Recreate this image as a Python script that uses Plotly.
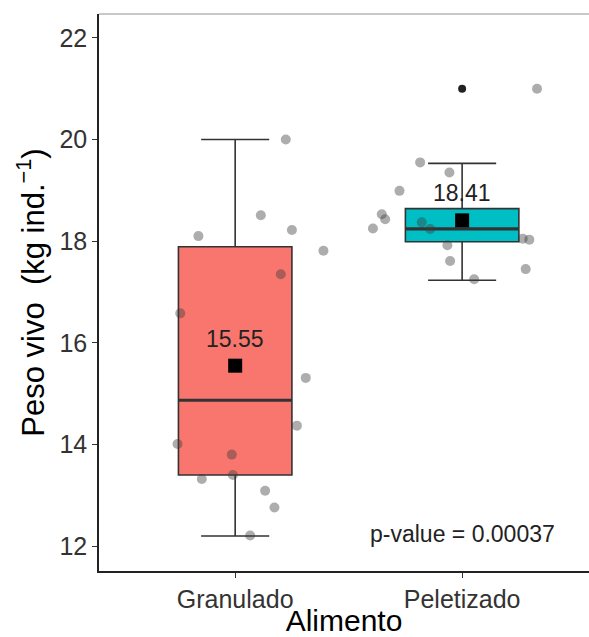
import plotly.graph_objects as go

# ---- data ----
categories = ["Granulado", "Peletizado"]
cat_pos = [1, 2]
box_colors = ["#F8766D", "#00BFC4"]

lowerfence = [12.2, 17.23]
q1 = [13.40, 17.99]
median = [14.87, 18.24]
q3 = [17.89, 18.64]
upperfence = [20.0, 19.53]
means = [15.55, 18.41]
mean_labels = ["15.55", "18.41"]

outlier_x = [2]
outlier_y = [21.0]

gran_x = [1.223, 1.113, 1.250, 0.838, 1.389, 1.201, 0.758, 1.311,
          1.272, 0.746, 0.985, 0.990, 0.853, 1.132, 1.173, 1.066]
gran_y = [20.0, 18.51, 18.22, 18.10, 17.81, 17.35, 16.58, 15.31,
          14.37, 14.01, 13.80, 13.40, 13.32, 13.09, 12.76, 12.21]

pel_x = [2.330, 1.815, 1.944, 1.724, 1.646, 1.661, 1.607, 1.822,
         1.859, 1.935, 1.947, 2.053, 2.267, 2.296, 2.280]
pel_y = [21.0, 19.55, 19.35, 18.99, 18.53, 18.43, 18.25, 18.37,
         18.24, 17.92, 17.61, 17.25, 18.05, 18.03, 17.45]

y_ticks = [12, 14, 16, 18, 20, 22]
p_text = "p-value = 0.00037"
p_pos = (2, 12.24)

BOX_W = 0.5
FONT = "Liberation Sans, Arial, sans-serif"

fig = go.Figure()

for i in range(len(categories)):
    fig.add_trace(go.Box(
        x=[cat_pos[i]], q1=[q1[i]], median=[median[i]], q3=[q3[i]],
        lowerfence=[lowerfence[i]], upperfence=[upperfence[i]],
        width=BOX_W, whiskerwidth=0.6, fillcolor=box_colors[i],
        line=dict(color="#333333", width=1.6), boxpoints=False,
        showlegend=False, hoverinfo="skip"))
    # thicker median line
    fig.add_trace(go.Scatter(
        x=[cat_pos[i] - BOX_W / 2, cat_pos[i] + BOX_W / 2],
        y=[median[i], median[i]], mode="lines",
        line=dict(color="#333333", width=3.2),
        showlegend=False, hoverinfo="skip"))

# outliers
fig.add_trace(go.Scatter(
    x=outlier_x, y=outlier_y, mode="markers",
    marker=dict(color="#222222", size=8),
    showlegend=False, hoverinfo="skip"))

# jittered points
for xs, ys in [(gran_x, gran_y), (pel_x, pel_y)]:
    fig.add_trace(go.Scatter(
        x=xs, y=ys, mode="markers",
        marker=dict(color="rgba(60,60,60,0.42)", size=10,
                    line=dict(width=0)),
        showlegend=False, hoverinfo="skip"))

# means
fig.add_trace(go.Scatter(
    x=cat_pos, y=means, mode="markers",
    marker=dict(color="black", size=14, symbol="square"),
    showlegend=False, hoverinfo="skip"))

annotations = []
for i in range(len(categories)):
    annotations.append(dict(
        x=cat_pos[i], y=means[i], text=mean_labels[i], showarrow=False,
        yshift=27, font=dict(family=FONT, size=23, color="#222222")))
annotations.append(dict(
    x=p_pos[0], y=p_pos[1], text=p_text, showarrow=False,
    font=dict(family=FONT, size=23, color="#222222")))

fig.update_layout(
    width=589, height=637,
    margin=dict(l=99, r=0, t=14, b=66),
    paper_bgcolor="white", plot_bgcolor="white",
    font=dict(family=FONT, color="#333333"),
    annotations=annotations,
    shapes=[dict(type="line", xref="paper", yref="paper",
                 x0=0, x1=1, y0=1, y1=1,
                 line=dict(color="#C8C8C8", width=2))],
    xaxis=dict(
        range=[0.4, 2.559], tickmode="array", tickvals=cat_pos,
        ticktext=categories, showgrid=False, zeroline=False,
        showline=True, linecolor="#222222", linewidth=1.6,
        ticks="outside", ticklen=5, tickcolor="#333333", tickwidth=1.2,
        tickfont=dict(family=FONT, size=25, color="#333333"),
        title=dict(text="Alimento", standoff=2,
                   font=dict(family=FONT, size=30, color="black"))),
    yaxis=dict(
        range=[11.51, 22.47], tickmode="array", tickvals=y_ticks,
        showgrid=False, zeroline=False,
        showline=True, linecolor="#222222", linewidth=1.6,
        ticks="outside", ticklen=5, tickcolor="#333333", tickwidth=1.2,
        tickfont=dict(family=FONT, size=25, color="#333333"),
        title=dict(text="Peso vivo  (kg ind.<sup>−1</sup>)", standoff=6,
                   font=dict(family=FONT, size=31, color="black"))),
)

fig.write_html(
    "out.html",
    config={"displayModeBar": False},
    post_script="document.body.style.margin='0';"
                "document.body.style.overflow='hidden';")
